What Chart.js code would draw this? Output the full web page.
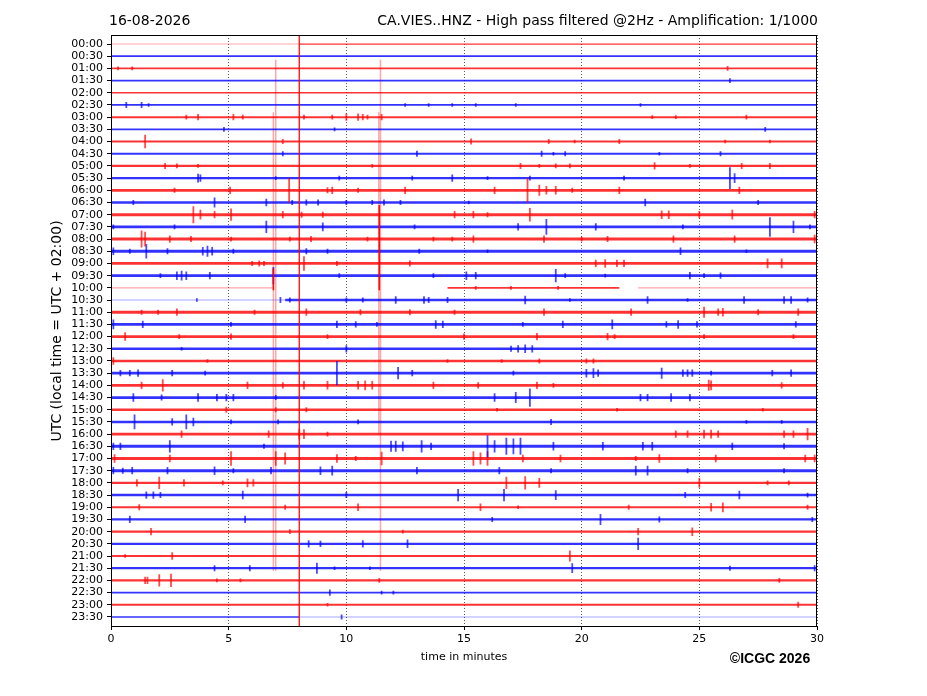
<!DOCTYPE html>
<html>
<head>
<meta charset="utf-8">
<script src="https://cdn.jsdelivr.net/npm/chart.js@4"></script>
<style>
  html, body { margin: 0; padding: 0; background: #fff; }
  canvas { display: block; }
</style>
</head>
<body>
<canvas id="heli" width="927" height="696"></canvas>
<script>
// Row labels (UTC start of every 30 min line)
const rowLabels = [
    '00:00', '00:30', '01:00', '01:30', '02:00', '02:30', '03:00', '03:30',
    '04:00', '04:30', '05:00', '05:30', '06:00', '06:30', '07:00', '07:30',
    '08:00', '08:30', '09:00', '09:30', '10:00', '10:30', '11:00', '11:30',
    '12:00', '12:30', '13:00', '13:30', '14:00', '14:30', '15:00', '15:30',
    '16:00', '16:30', '17:00', '17:30', '18:00', '18:30', '19:00', '19:30',
    '20:00', '20:30', '21:00', '21:30', '22:00', '22:30', '23:00', '23:30'
];
const xTicks = [0, 5, 10, 15, 20, 25, 30];

// Background noise half amplitude per line (line units)
const noiseLevel = [
    0.05, 0.07, 0.07, 0.07, 0.06, 0.07, 0.08, 0.07,
    0.08, 0.08, 0.09, 0.10, 0.11, 0.11, 0.12, 0.12,
    0.12, 0.12, 0.11, 0.12, 0.07, 0.10, 0.12, 0.12,
    0.11, 0.10, 0.10, 0.11, 0.11, 0.11, 0.10, 0.10,
    0.11, 0.12, 0.12, 0.12, 0.10, 0.10, 0.09, 0.09,
    0.09, 0.09, 0.09, 0.09, 0.09, 0.07, 0.08, 0.06
];

// Bursts per line: [minute, half amplitude in line units]
const bursts = [
    [],
    [],
    [[0.3, 0.15], [0.9, 0.15], [26.2, 0.2]],
    [[26.3, 0.2]],
    [],
    [[0.65, 0.25], [1.3, 0.25], [1.6, 0.15], [12.5, 0.15], [13.5, 0.15], [14.5, 0.15], [15.5, 0.15], [17.2, 0.15], [22.5, 0.15]],
    [[3.2, 0.2], [3.7, 0.25], [5.2, 0.25], [5.6, 0.2], [8.2, 0.2], [9.4, 0.2], [10.0, 0.3], [10.5, 0.3], [10.7, 0.25], [10.9, 0.2], [11.5, 0.25], [23.0, 0.15], [24.0, 0.15], [27.0, 0.2]],
    [[4.8, 0.2], [9.5, 0.15], [27.8, 0.2]],
    [[1.45, 0.55], [7.3, 0.2], [15.3, 0.25], [18.6, 0.2], [19.7, 0.15], [21.6, 0.2], [26.1, 0.15], [28.0, 0.15]],
    [[7.3, 0.2], [13.0, 0.25], [18.3, 0.25], [18.8, 0.15], [19.3, 0.2], [23.3, 0.15], [25.9, 0.2]],
    [[2.3, 0.25], [2.8, 0.2], [3.7, 0.15], [11.1, 0.15], [17.4, 0.25], [18.2, 0.15], [18.9, 0.2], [19.5, 0.2], [23.1, 0.3], [24.6, 0.15], [26.8, 0.25], [28.0, 0.25]],
    [[3.7, 0.35], [3.8, 0.3], [7.0, 0.15], [9.7, 0.2], [12.8, 0.2], [14.5, 0.3], [16.0, 0.15], [17.8, 0.2], [21.8, 0.2], [26.3, 0.9], [26.5, 0.4]],
    [[2.7, 0.2], [5.06, 0.3], [7.57, 1.0], [9.2, 0.25], [9.4, 0.3], [10.5, 0.2], [12.5, 0.3], [16.3, 0.3], [17.7, 1.0], [18.2, 0.45], [18.5, 0.35], [18.9, 0.35], [19.6, 0.2], [21.6, 0.3], [26.7, 0.3]],
    [[0.95, 0.2], [4.4, 0.4], [6.6, 0.3], [7.7, 0.2], [8.3, 0.25], [8.8, 0.25], [10.0, 0.2], [11.1, 0.2], [11.6, 0.25], [12.3, 0.2], [15.2, 0.15], [22.7, 0.3], [27.5, 0.2]],
    [[3.5, 0.7], [3.8, 0.4], [4.4, 0.3], [5.1, 0.5], [7.3, 0.3], [8.1, 0.25], [9.0, 0.25], [14.6, 0.3], [15.4, 0.3], [16.0, 0.2], [17.8, 0.55], [23.4, 0.35], [23.7, 0.35], [25.0, 0.3], [26.4, 0.4], [29.9, 0.3]],
    [[0.1, 0.2], [2.7, 0.2], [6.6, 0.5], [9.0, 0.35], [12.9, 0.2], [17.3, 0.3], [18.5, 0.65], [20.6, 0.3], [24.3, 0.2], [28.0, 0.8], [29.0, 0.5], [29.7, 0.2]],
    [[1.3, 0.7], [1.45, 0.6], [2.5, 0.3], [3.4, 0.25], [5.1, 0.2], [7.6, 0.2], [8.5, 0.25], [10.9, 0.2], [13.7, 0.2], [14.5, 0.2], [15.4, 0.3], [18.4, 0.3], [20.0, 0.2], [21.1, 0.25], [23.9, 0.3], [26.5, 0.3], [29.9, 0.35]],
    [[0.1, 0.3], [0.8, 0.2], [1.5, 0.6], [2.4, 0.25], [3.9, 0.35], [4.1, 0.45], [4.3, 0.35], [5.2, 0.2], [8.3, 0.25], [9.2, 0.2], [13.1, 0.2], [16.0, 0.15], [24.2, 0.3], [27.0, 0.15]],
    [[6.0, 0.2], [6.3, 0.25], [6.5, 0.2], [8.2, 0.6], [9.6, 0.2], [12.7, 0.25], [20.6, 0.3], [21.0, 0.35], [21.5, 0.3], [21.8, 0.3], [27.9, 0.4], [28.5, 0.4]],
    [[2.1, 0.2], [2.8, 0.35], [3.0, 0.4], [3.2, 0.35], [4.2, 0.3], [6.9, 0.7], [9.7, 0.2], [13.7, 0.2], [15.1, 0.35], [15.5, 0.3], [18.9, 0.55], [19.3, 0.2], [21.0, 0.15], [24.6, 0.3], [25.2, 0.2], [25.9, 0.25]],
    [[15.5, 0.15], [17.0, 0.15], [19.0, 0.15]],
    [[3.65, 0.15], [7.2, 0.25], [7.6, 0.2], [10.0, 0.2], [10.7, 0.2], [12.1, 0.3], [13.3, 0.3], [13.5, 0.25], [14.3, 0.25], [17.6, 0.35], [19.5, 0.15], [22.8, 0.3], [24.5, 0.15], [26.9, 0.3], [28.6, 0.3], [28.9, 0.3], [29.6, 0.2]],
    [[1.3, 0.2], [2.0, 0.2], [2.8, 0.3], [6.1, 0.2], [8.3, 0.3], [10.6, 0.25], [12.7, 0.25], [14.6, 0.2], [18.4, 0.3], [22.1, 0.3], [25.2, 0.45], [25.8, 0.3], [26.0, 0.35], [27.5, 0.25], [29.2, 0.3]],
    [[0.1, 0.4], [1.35, 0.3], [5.1, 0.2], [9.6, 0.3], [10.4, 0.25], [11.3, 0.2], [13.8, 0.35], [14.1, 0.3], [17.5, 0.2], [19.2, 0.3], [21.3, 0.4], [23.6, 0.25], [24.1, 0.35], [24.9, 0.25], [29.1, 0.25]],
    [[0.6, 0.35], [2.9, 0.2], [5.1, 0.25], [9.2, 0.2], [15.0, 0.25], [18.1, 0.3], [21.1, 0.3], [21.4, 0.2], [25.2, 0.2], [29.0, 0.2]],
    [[3.0, 0.15], [10.0, 0.3], [17.0, 0.25], [17.3, 0.3], [17.6, 0.35], [17.9, 0.3]],
    [[0.1, 0.3], [4.1, 0.15], [14.3, 0.15], [16.6, 0.15], [18.2, 0.2], [20.2, 0.2], [20.5, 0.2]],
    [[0.4, 0.25], [0.8, 0.25], [1.15, 0.3], [2.6, 0.25], [4.0, 0.2], [9.6, 1.0], [12.2, 0.5], [12.8, 0.25], [17.1, 0.2], [20.2, 0.35], [20.5, 0.4], [20.7, 0.3], [23.4, 0.45], [24.3, 0.3], [24.5, 0.3], [24.7, 0.3], [25.5, 0.2], [28.1, 0.25], [28.9, 0.3]],
    [[1.3, 0.3], [2.2, 0.5], [5.8, 0.3], [7.3, 0.25], [8.2, 0.35], [9.2, 0.35], [10.5, 0.35], [10.8, 0.4], [11.1, 0.35], [13.7, 0.3], [15.6, 0.25], [18.1, 0.3], [18.8, 0.2], [25.4, 0.45], [25.5, 0.4], [28.5, 0.25]],
    [[0.95, 0.35], [2.15, 0.25], [3.7, 0.35], [4.5, 0.3], [4.9, 0.3], [5.2, 0.3], [7.0, 0.2], [16.3, 0.35], [17.2, 0.45], [17.8, 0.75], [22.5, 0.3], [22.8, 0.3], [23.8, 0.35], [24.6, 0.3]],
    [[4.9, 0.25], [7.0, 0.2], [8.3, 0.2], [16.4, 0.15], [21.5, 0.15], [27.7, 0.15]],
    [[1.0, 0.6], [2.6, 0.3], [3.2, 0.6], [3.5, 0.35], [5.1, 0.2], [7.1, 0.2], [10.5, 0.2], [18.7, 0.25], [27.0, 0.15], [28.5, 0.15]],
    [[3.0, 0.3], [6.7, 0.3], [8.0, 0.45], [8.2, 0.4], [9.2, 0.2], [24.0, 0.3], [24.5, 0.3], [25.2, 0.35], [25.5, 0.35], [25.8, 0.3], [28.6, 0.3], [29.0, 0.3], [29.6, 0.5]],
    [[0.1, 0.3], [0.4, 0.3], [2.5, 0.5], [6.5, 0.2], [11.9, 0.45], [12.1, 0.45], [12.4, 0.4], [13.2, 0.5], [13.6, 0.3], [16.0, 0.9], [16.3, 0.5], [16.8, 0.7], [17.1, 0.65], [17.4, 0.7], [18.8, 0.35], [20.9, 0.35], [22.6, 0.35], [23.0, 0.35], [26.4, 0.3], [28.6, 0.25]],
    [[0.15, 0.35], [2.5, 0.3], [5.1, 0.6], [7.0, 0.6], [7.4, 0.5], [9.6, 0.35], [10.4, 0.2], [11.5, 0.55], [15.4, 0.6], [15.7, 0.5], [16.0, 0.6], [17.5, 0.3], [19.1, 0.3], [22.3, 0.2], [23.3, 0.35], [25.7, 0.3], [29.5, 0.3], [29.9, 0.3]],
    [[0.1, 0.3], [0.5, 0.25], [0.9, 0.3], [2.4, 0.3], [4.4, 0.35], [5.2, 0.2], [6.8, 0.3], [8.9, 0.35], [9.4, 0.4], [13.0, 0.3], [16.5, 0.3], [18.7, 0.2], [22.3, 0.4], [22.8, 0.4], [24.5, 0.2], [28.6, 0.2]],
    [[1.1, 0.3], [2.05, 0.5], [3.1, 0.3], [4.75, 0.2], [5.8, 0.35], [6.05, 0.3], [16.8, 0.5], [17.6, 0.55], [18.2, 0.4], [25.0, 0.4], [27.9, 0.2], [28.8, 0.2]],
    [[1.5, 0.3], [1.8, 0.3], [2.1, 0.25], [5.6, 0.35], [10.0, 0.25], [14.75, 0.5], [16.7, 0.5], [18.9, 0.4], [24.4, 0.25], [26.7, 0.35], [29.6, 0.2]],
    [[1.2, 0.25], [7.4, 0.2], [10.5, 0.3], [15.7, 0.3], [17.3, 0.15], [22.0, 0.2], [25.5, 0.35], [26.0, 0.4], [29.6, 0.2]],
    [[0.8, 0.3], [5.7, 0.3], [16.2, 0.2], [20.8, 0.45], [23.3, 0.25], [29.8, 0.2]],
    [[1.7, 0.3], [7.6, 0.2], [12.4, 0.15], [22.4, 0.3], [24.7, 0.35]],
    [[8.4, 0.3], [8.9, 0.25], [10.7, 0.3], [12.6, 0.35], [22.4, 0.5]],
    [[0.6, 0.15], [2.6, 0.3], [19.5, 0.45]],
    [[4.4, 0.25], [5.9, 0.25], [8.75, 0.45], [9.5, 0.15], [11.0, 0.15], [19.6, 0.4], [26.3, 0.2], [29.9, 0.25]],
    [[1.45, 0.3], [1.55, 0.3], [2.05, 0.5], [2.55, 0.55], [4.5, 0.15], [5.5, 0.15], [11.4, 0.2], [28.4, 0.2]],
    [[9.3, 0.25], [11.5, 0.15], [12.0, 0.15]],
    [[9.2, 0.15], [29.2, 0.25]],
    [[9.8, 0.2]]
];

// Lines where the trace is weak or missing: line -> [from, to, quality]
const traceSpans = {
    0: [[0, 8, 'weak'], [8, 30, 'full']],
    20: [[0, 6.85, 'weak'], [14.3, 21.6, 'full'], [22.4, 30, 'weak']],
    21: [[0, 7.4, 'weak'], [7.4, 30, 'full']],
    47: [[0, 8, 'full'], [8, 30, 'weak']]
};

// Clipped vertical spikes: minute, first line, last line
const spikeMinute = [8.0, 6.9, 11.4, 7.0, 6.9, 11.45, 11.38];
const spikeFrom = [-0.74, 18.4, 13.2, 1.3, 5.6, 1.3, 5.6];
const spikeTo = [47.74, 20.2, 20.2, 43.2, 43.2, 43.2, 32.0];
const spikeClipped = [true, true, true, false, false, false, false];

// Цвет линии: чётные красные, нечётные синие
function lineColor(i, alpha) {
    return i % 2 === 0 ? `rgba(255,0,0,${alpha})` : `rgba(0,0,255,${alpha})`;
}

// Толщина линии по уровню шума, через шкалу Y
function noiseWidth(level) {
    return ctx => {
        const s = ctx.chart.scales.y;
        if (!s) return 2;
        return Math.max(1, Math.abs(s.getPixelForValue(level) - s.getPixelForValue(0)) * 2);
    };
}

const datasets = [];

spikeMinute.forEach((m, k) => {
    if (!spikeClipped[k]) return;
    datasets.push({
        data: [{ x: m, y: spikeFrom[k] }, { x: m, y: spikeTo[k] }],
        borderColor: 'rgba(255,0,0,0.95)',
        borderWidth: k === 0 ? 1.3 : 1.6
    });
});

bursts.forEach((list, i) => {
    const pts = [];
    list.forEach(([t, a]) => {
        pts.push({ x: t, y: i - a }, { x: t, y: i + a }, { x: t, y: null });
    });
    datasets.push({ data: pts, borderColor: lineColor(i, 0.7), borderWidth: 1.8 });
});

rowLabels.forEach((_, i) => {
    const spans = traceSpans[i] || [[0, 30, 'full']];
    spans.forEach(([a, b, q]) => {
        datasets.push({
            data: [{ x: a, y: i }, { x: b, y: i }],
            borderColor: lineColor(i, q === 'full' ? 0.8 : 0.35),
            borderWidth: q === 'full' ? noiseWidth(noiseLevel[i]) : 1.2
        });
    });
});

spikeMinute.forEach((m, k) => {
    if (spikeClipped[k]) return;
    datasets.push({
        data: [{ x: m, y: spikeFrom[k] }, { x: m, y: spikeTo[k] }],
        borderColor: 'rgba(255,0,0,0.35)',
        borderWidth: 1.5
    });
});

datasets.forEach(d => {
    d.showLine = true;
    d.spanGaps = false;
    d.pointRadius = 0;
    d.borderCapStyle = 'butt';
});

// Подписи и рамка
const textPlugin = {
    id: 'heliText',
    afterDraw(chart) {
        const ctx = chart.ctx;
        const area = chart.chartArea;
        ctx.save();
        ctx.strokeStyle = '#000';
        ctx.lineWidth = 1;
        ctx.strokeRect(area.left + 0.5, area.top + 0.5, area.right - area.left - 1, area.bottom - area.top);

        ctx.fillStyle = '#000';
        ctx.font = '14px "DejaVu Sans"';
        ctx.textBaseline = 'alphabetic';
        ctx.textAlign = 'left';
        ctx.fillText('16-08-2026', 109, 25);
        ctx.textAlign = 'right';
        ctx.fillText('CA.VIES..HNZ - High pass filtered @2Hz - Amplification: 1/1000', 818, 25);

        ctx.font = '11px "DejaVu Sans"';
        ctx.textAlign = 'center';
        ctx.textBaseline = 'middle';
        ctx.fillText('time in minutes', 464, 657);

        ctx.font = 'bold 14px "Liberation Sans"';
        ctx.fillText('©ICGC 2026', 770, 659);

        ctx.translate(57, 331);
        ctx.rotate(-Math.PI / 2);
        ctx.font = '14px "DejaVu Sans"';
        ctx.fillText('UTC (local time = UTC + 02:00)', 0, 0);
        ctx.restore();
    }
};

new Chart(document.getElementById('heli'), {
    type: 'scatter',
    data: { datasets },
    plugins: [textPlugin],
    options: {
        responsive: false,
        animation: false,
        devicePixelRatio: 1,
        layout: { padding: { left: 0, right: 110, top: 35, bottom: 0 } },
        plugins: {
            legend: { display: false },
            tooltip: { enabled: false }
        },
        scales: {
            x: {
                type: 'linear',
                min: 0,
                max: 30,
                afterBuildTicks: s => { s.ticks = xTicks.map(v => ({ value: v })); },
                afterFit: s => { s.height = 70; },
                ticks: {
                    autoSkip: false,
                    maxRotation: 0,
                    padding: 3,
                    color: '#000',
                    font: { family: 'DejaVu Sans', size: 11 }
                },
                grid: {
                    color: '#333',
                    lineWidth: 0.8,
                    tickLength: 4,
                    tickColor: '#000',
                    tickWidth: 1,
                    tickBorderDash: []
                },
                border: { display: false, dash: [1, 2] }
            },
            y: {
                type: 'linear',
                reverse: true,
                min: -0.74,
                max: 47.74,
                afterBuildTicks: s => { s.ticks = rowLabels.map((_, i) => ({ value: i })); },
                afterFit: s => { s.width = 111; },
                ticks: {
                    autoSkip: false,
                    padding: 4,
                    color: '#000',
                    font: { family: 'DejaVu Sans', size: 11 },
                    callback: (v, idx) => rowLabels[idx]
                },
                grid: {
                    drawOnChartArea: false,
                    tickLength: 4,
                    tickColor: '#000',
                    tickWidth: 1
                },
                border: { display: false }
            }
        }
    }
});
</script>
</body>
</html>
